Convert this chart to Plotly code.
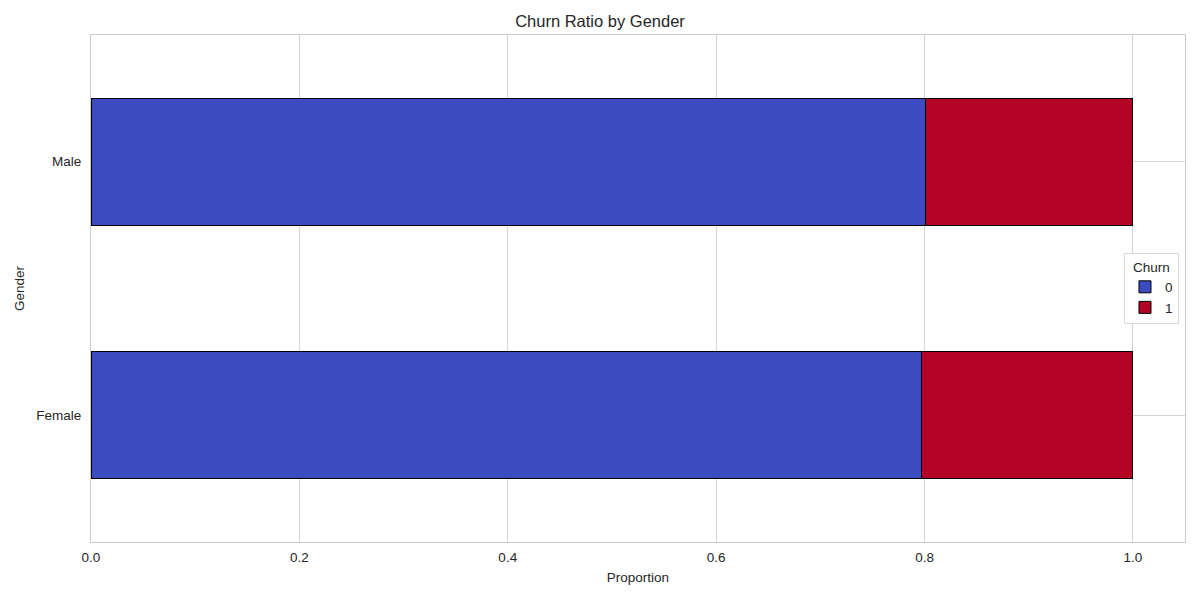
import plotly.graph_objects as go

genders = ["Female", "Male"]
churn0 = [0.7975, 0.8005]
churn1 = [0.2025, 0.1995]
series_names = ["0", "1"]
colors = ["#3b4cc0", "#b40426"]

fig = go.Figure()
for name, vals, col in zip(series_names, [churn0, churn1], colors):
    fig.add_trace(go.Bar(
        y=genders, x=vals, name=name, orientation="h",
        marker=dict(color=col, line=dict(color="black", width=1)),
        width=0.5,
    ))

font_family = "Liberation Sans, Arial, sans-serif"
fig.update_layout(
    barmode="stack",
    width=1184, height=584,
    margin=dict(l=83, r=7, t=27, b=50),
    plot_bgcolor="white", paper_bgcolor="white",
    font=dict(family=font_family, size=13.5, color="#262626"),
    title=dict(text="Churn Ratio by Gender", x=0.5, xanchor="center", y=0.978, yanchor="middle",
               font=dict(size=16.5, color="#262626")),
    xaxis=dict(range=[0, 1.05], tickvals=[0, 0.2, 0.4, 0.6, 0.8, 1.0],
               ticktext=["0.0", "0.2", "0.4", "0.6", "0.8", "1.0"],
               showgrid=True, gridcolor="#d4d4d4", gridwidth=1, zeroline=False,
               showline=True, linecolor="#cccccc", linewidth=1, mirror=True,
               ticks="", ticklabelstandoff=3,
               title=dict(text="Proportion", standoff=8, font=dict(size=13.5))),
    yaxis=dict(type="category", range=[-0.5, 1.5],
               showgrid=True, gridcolor="#d4d4d4", gridwidth=1, zeroline=False,
               showline=True, linecolor="#cccccc", linewidth=1, mirror=True,
               ticks="", ticklabelstandoff=6,
               title=dict(text="Gender", standoff=8, font=dict(size=13.5))),
    legend=dict(x=0.9945, xanchor="right", y=0.5, yanchor="middle",
                bgcolor="white", bordercolor="#d9d9d9", borderwidth=1,
                title=dict(text="Churn", side="top center", font=dict(size=13.5)),
                font=dict(size=13.5), traceorder="normal", itemwidth=30),
    showlegend=True,
)
fig.write_html("out.html")
